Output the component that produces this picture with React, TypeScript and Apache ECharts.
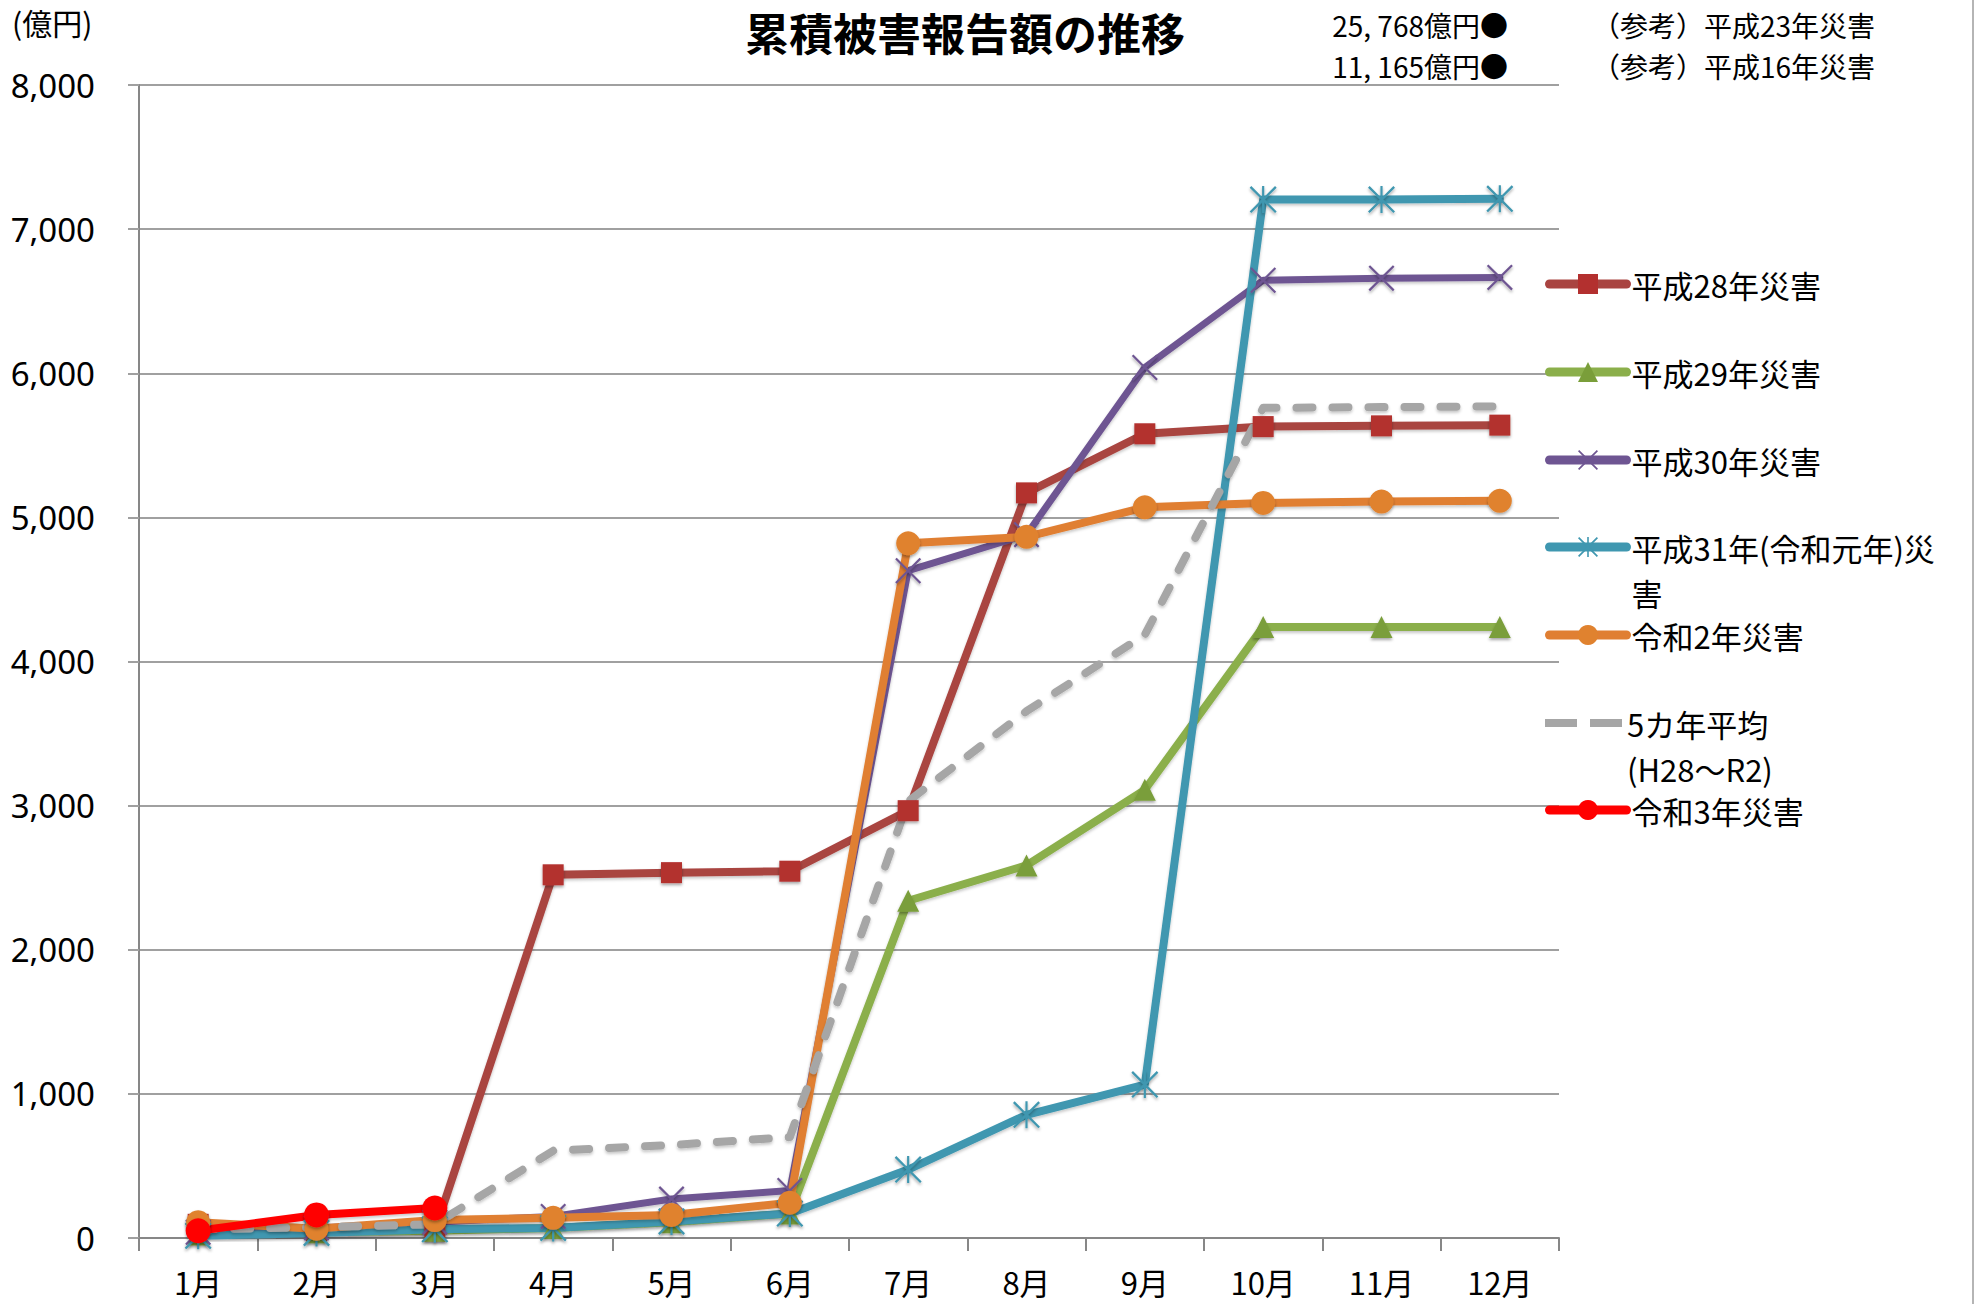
import React, { useEffect, useRef } from "react";
import * as echarts from "echarts";

const months = ["1月", "2月", "3月", "4月", "5月", "6月", "7月", "8月", "9月", "10月", "11月", "12月"];

const seriesNames = [
  "平成28年災害",
  "平成29年災害",
  "平成30年災害",
  "平成31年(令和元年)災害",
  "令和2年災害",
  "5カ年平均(H28～R2)",
  "令和3年災害",
];

const legendLabels = [
  "平成28年災害",
  "平成29年災害",
  "平成30年災害",
  "\n平成31年(令和元年)災\n害",
  "令和2年災害",
  "\n5カ年平均\n(H28～R2)",
  "令和3年災害",
];

const h28 = [95, 50, 50, 2520, 2535, 2545, 2965, 5170, 5580, 5630, 5635, 5640];
const h29 = [25, 40, 50, 70, 110, 170, 2340, 2585, 3110, 4240, 4240, 4240];
const h30 = [40, 70, 110, 150, 270, 330, 4630, 4880, 6040, 6645, 6660, 6665];
const h31 = [15, 35, 60, 70, 115, 170, 475, 855, 1065, 7205, 7205, 7210];
const r2 = [110, 65, 125, 140, 160, 245, 4820, 4865, 5070, 5100, 5110, 5115];
const avg5 = [60, 75, 95, 605, 645, 700, 3030, 3655, 4185, 5760, 5765, 5770];
const r3 = [50, 160, 208];

const yMin = 0;
const yMax = 8000;
const yInterval = 1000;

const refAmounts = ["25, 768億円●", "11, 165億円●"];
const refLabels = ["（参考）平成23年災害", "（参考）平成16年災害"];

const X_PATH =
  "M0,6L6,0L50,44L94,0L100,6L56,50L100,94L94,100L50,56L6,100L0,94L44,50Z";
const STAR_PATH = X_PATH + "M46,0L54,0L54,100L46,100Z";
const DASH_ICON = "path://M0,0L32,0L32,8L0,8ZM45,0L77,0L77,8L45,8Z";

const CJK = '"Noto Sans CJK JP", "Noto Sans", sans-serif';

function lineSeries(
  name: string,
  data: number[],
  lineColor: string,
  markerColor: string,
  symbol: string,
  symbolSize: number,
  width: number,
  dashed = false
) {
  return {
    name,
    type: "line",
    data,
    symbol,
    symbolSize,
    showSymbol: symbol !== "none",
    lineStyle: {
      color: lineColor,
      width,
      cap: "round",
      join: "round",
      type: dashed ? [16, 20] : "solid",
      shadowBlur: 3,
      shadowColor: "rgba(0,0,0,0.22)",
      shadowOffsetY: 2,
    },
    itemStyle: {
      color: markerColor,
      shadowBlur: 3,
      shadowColor: "rgba(0,0,0,0.35)",
      shadowOffsetY: 2,
    },
    emphasis: { disabled: true },
    z: 2,
  };
}

export default function App() {
  const ref = useRef<HTMLDivElement>(null);

  useEffect(() => {
    if (!ref.current) return;
    const chart = echarts.init(ref.current, undefined, { renderer: "svg" });

    const legendCenters = [284, 372, 460, 547, 635, 723, 810];
    const LH = 45;

    const legends = seriesNames.map((name, i) => {
      const nLines = legendLabels[i].split("\n").length;
      return {
        data: [i === 5 ? { name, icon: DASH_ICON } : name],
        orient: "vertical",
        left: 1545,
        top: legendCenters[i] - (LH * nLines) / 2,
        itemWidth: 77,
        itemHeight: 25,
        padding: 0,
        selectedMode: false,
        formatter: () => legendLabels[i],
        lineStyle: { width: 9, cap: "round" },
        textStyle: {
          fontSize: 31,
          fontFamily: CJK,
          color: "#000",
          lineHeight: LH,
        },
      };
    });

    const option = {
      animation: false,
      backgroundColor: "#fff",
      title: {
        text: "累積被害報告額の推移",
        left: 745,
        top: 0,
        padding: 0,
        textStyle: { fontSize: 44, fontWeight: "bold", fontFamily: CJK, color: "#000", lineHeight: 64 },
      },
      legend: legends,
      grid: { left: 139, right: 416, top: 85, bottom: 66, containLabel: false },
      xAxis: {
        type: "category",
        data: months,
        boundaryGap: true,
        axisLine: { show: true, lineStyle: { color: "#878787", width: 2 } },
        axisTick: { show: true, length: 13, interval: 0, lineStyle: { color: "#878787", width: 2 } },
        axisLabel: { margin: 27, fontSize: 31, fontFamily: CJK, color: "#000", interval: 0, lineHeight: 32 },
        splitLine: { show: false },
      },
      yAxis: {
        type: "value",
        min: yMin,
        max: yMax,
        interval: yInterval,
        axisLine: { show: true, lineStyle: { color: "#878787", width: 2 } },
        axisTick: { show: true, length: 11, lineStyle: { color: "#A0A0A0", width: 2 } },
        axisLabel: {
          margin: 44,
          fontSize: 33,
          fontFamily: '"Noto Sans", sans-serif',
          color: "#000",
          formatter: (v: number) => v.toLocaleString("en-US"),
        },
        splitLine: { show: true, lineStyle: { color: "#A0A0A0", width: 2 } },
      },
      series: [
        lineSeries(seriesNames[0], h28, "#A94441", "#B3302F", "rect", 21, 8),
        lineSeries(seriesNames[1], h29, "#8BAF4B", "#7A9E3A", "triangle", 22, 8),
        lineSeries(seriesNames[2], h30, "#6E5592", "#6E5592", "path://" + X_PATH, 26, 7),
        lineSeries(seriesNames[3], h31, "#3F97B0", "#3F97B0", "path://" + STAR_PATH, 27, 8),
        lineSeries(seriesNames[4], r2, "#E07F33", "#E0822F", "circle", 24, 8),
        lineSeries(seriesNames[5], avg5, "#A6A6A6", "#A6A6A6", "none", 0, 8, true),
        lineSeries(seriesNames[6], r3, "#FF0000", "#FF0000", "circle", 25, 8),
      ],
      graphic: [
        {
          type: "text",
          left: 12,
          top: 7,
          style: { text: "(億円)", fontSize: 30, fontFamily: CJK, fill: "#000" },
        },
        ...refAmounts.map((t, i) => ({
          type: "text",
          x: 1508,
          y: i === 0 ? 25 : 66,
          style: {
            text: t,
            fontSize: 28,
            lineHeight: 36,
            fontFamily: CJK,
            fill: "#000",
            align: "right",
            verticalAlign: "middle",
          },
        })),
        ...refLabels.map((t, i) => ({
          type: "text",
          x: 1592,
          y: i === 0 ? 25 : 66,
          style: {
            text: t,
            fontSize: 28,
            lineHeight: 36,
            fontFamily: CJK,
            fill: "#000",
            align: "left",
            verticalAlign: "middle",
          },
        })),
        {
          type: "line",
          shape: { x1: 1973, y1: 0, x2: 1973, y2: 1304 },
          style: { stroke: "#B5B5B5", lineWidth: 2 },
        },
      ],
    };

    chart.setOption(option as any);
    return () => chart.dispose();
  }, []);

  return (
    <div
      ref={ref}
      style={{ position: "fixed", left: 0, top: 0, width: 1975, height: 1304, background: "#fff" }}
    />
  );
}
